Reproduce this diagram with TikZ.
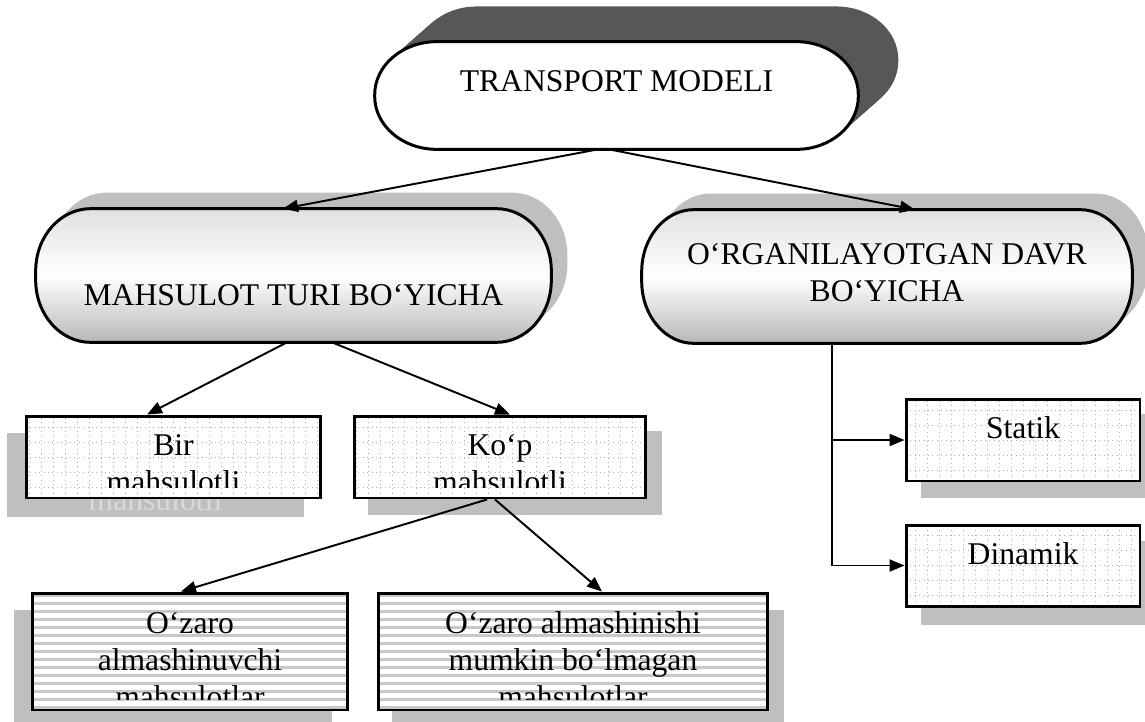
\documentclass[tikz,border=0pt]{standalone}
\usepackage{fontspec}
\setmainfont{Liberation Serif}
\usetikzlibrary{arrows.meta}
\usetikzlibrary{backgrounds}

\definecolor{shadowdark}{HTML}{575757}
\definecolor{shadowlight}{HTML}{BFBFBF}
\definecolor{ghostgray}{HTML}{D9D9D9}
\definecolor{stripegray}{HTML}{C8C8C8}
\definecolor{dotgray}{HTML}{B0B0B0}

\newcommand{\boxfont}{\fontsize{18}{21}\selectfont}

% capsule with elliptic ends round a node (radii in px)
\newcommand{\capsule}[4][]{%
	\path[#1] ([shift={(#3,0)}]#2.north west) -- ([shift={(-#3,0)}]#2.north east)
		arc[start angle=90, end angle=0, x radius=#3, y radius=#4]
		-- ([shift={(0,#4)}]#2.south east)
		arc[start angle=0, end angle=-90, x radius=#3, y radius=#4]
		-- ([shift={(#3,0)}]#2.south west)
		arc[start angle=-90, end angle=-180, x radius=#3, y radius=#4]
		-- ([shift={(0,-#4)}]#2.north west)
		arc[start angle=180, end angle=90, x radius=#3, y radius=#4]
		-- cycle;}

% shadow of a box
\newcommand{\boxshadow}[3]{%
	\begin{scope}[on background layer]
		\fill[shadowlight] ([shift={(#2,#3)}]#1.south west) rectangle ([shift={(#2,#3)}]#1.north east);
	\end{scope}}

% text of a box, clipped, and its copy in the shadow
\newcommand{\boxlabel}[5]{%
	\begin{scope}
		\clip (#1.north west) rectangle ([yshift=0.24cm]#1.south east);
		\node[boxtext] (#1-text) at ([shift={(0,-#2)}]#1.north) {\strut #5};
	\end{scope}
	\begin{scope}[on background layer]
		\clip ([shift={(#3,#4)}]#1.north west) rectangle ([shift={(#3,#4)}]#1.south east);
		\node[boxtext, text=ghostgray] (#1-ghost) at ([shift={({#3},{#4-#2})}]#1.north) {\strut #5};
	\end{scope}}

\begin{document}
\begin{tikzpicture}[x=0.02cm, y=0.02cm,
	frame/.style={draw, line width=1.7pt, inner sep=0pt},
	hub/.style={inner sep=0pt, minimum height=2.66cm},
	gridbox/.style={frame, fill=white, minimum height=1.64cm,
		path picture={\draw[dotted, dotgray, line width=0.5pt] (path picture bounding box.south west) grid[xstep=0.24cm, ystep=0.3cm] (path picture bounding box.north east);}},
	stripebox/.style={frame, fill=white, minimum height=2.34cm,
		path picture={\foreach \i in {-8,...,8}
			\draw[stripegray, line width=1.4pt] ([yshift=\i*0.16cm]path picture bounding box.west) -- ++(500,0);}},
	boxtext/.style={anchor=north, align=center, inner sep=0pt, font=\boxfont},
	arr/.style={-{Triangle[length=0.3cm, width=0.24cm]}, line width=1.1pt}]

	\useasboundingbox (0,0) rectangle (1145,-721);
	\begin{scope}[on background layer]
		\fill[white] (0,0) rectangle (1145,-721);
	\end{scope}

	%capsules
	\node[hub, minimum width=9.66cm, minimum height=2.14cm] (tm) at (616.5,-95.5) {};
	\node[hub, minimum width=10.3cm] (mt) at (293.5,-275.5) {};
	\node[hub, minimum width=9.8cm] (od) at (887,-276.5) {};

	\begin{scope}[on background layer]
		\foreach \k in {1,...,16}
			\capsule[fill=shadowdark, transform canvas={shift={({\k*2.5},{\k*2.2})}}]{tm}{62}{53};
		\foreach \k in {1,...,8} {
			\capsule[fill=shadowlight, transform canvas={shift={({\k*2},{\k*2})}}]{mt}{55}{62};
			\capsule[fill=shadowlight, transform canvas={shift={({\k*2},{\k*2})}}]{od}{52}{62};
		}
	\end{scope}

	\capsule[draw, line width=1.7pt, fill=white]{tm}{62}{53};
	\capsule[draw, line width=1.7pt, top color=black!12, bottom color=black!28, middle color=white]{mt}{55}{62};
	\capsule[draw, line width=1.7pt, top color=black!12, bottom color=black!28, middle color=white]{od}{52}{62};

	\node[boxtext] (tm-text) at ([yshift=-0.48cm]tm.north) {\strut TRANSPORT MODELI};
	\node[boxtext] (mt-text) at ([yshift=-1.42cm]mt.north) {\strut MAHSULOT TURI BO‘YICHA};
	\node[boxtext] (od-text) at ([yshift=-0.58cm]od.north) {\strut O‘RGANILAYOTGAN DAVR\\BO‘YICHA};

	%boxes
	\node[gridbox, minimum width=5.9cm] (bir) at (173.5,-457) {};
	\node[gridbox, minimum width=5.84cm] (kop) at (500,-457) {};
	\node[gridbox, minimum width=4.68cm] (statik) at (1023,-440) {};
	\node[gridbox, minimum width=4.68cm, minimum height=1.62cm] (dinamik) at (1023,-565.5) {};
	\node[stripebox, minimum width=6.32cm] (oz1) at (190,-651.5) {};
	\node[stripebox, minimum width=7.8cm] (oz2) at (573,-651.5) {};

	\boxshadow{bir}{-18}{-18}
	\boxshadow{kop}{15}{-16}
	\boxshadow{statik}{16}{-16}
	\boxshadow{dinamik}{16}{-17}
	\boxshadow{oz1}{-17}{-18}
	\boxshadow{oz2}{15}{-18}

	\boxlabel{bir}{15}{-18}{-18}{Bir\\mahsulotli}
	\boxlabel{kop}{15}{15}{-16}{Ko‘p\\mahsulotli}
	\boxlabel{statik}{15}{16}{-16}{Statik}
	\boxlabel{dinamik}{15}{16}{-17}{Dinamik}
	\boxlabel{oz1}{16}{-17}{-18}{O‘zaro\\almashinuvchi\\mahsulotlar}
	\boxlabel{oz2}{16}{15}{-18}{O‘zaro almashinishi\\mumkin bo‘lmagan\\mahsulotlar}

	%arrows
	\draw[arr] ([xshift=-0.37cm]tm.south) -- ([xshift=-0.21cm]mt.north);
	\draw[arr] ([xshift=-0.15cm]tm.south) -- ([xshift=0.56cm]od.north);
	\draw[arr] ([xshift=-0.13cm]mt.south) -- ([xshift=-0.53cm]bir.north);
	\draw[arr] ([xshift=0.77cm]mt.south) -- ([xshift=0.2cm]kop.north);
	\draw[arr] ([xshift=-0.26cm]kop.south) -- ([xshift=-0.18cm]oz1.north);
	\draw[arr] ([xshift=-0.1cm]kop.south) -- ([xshift=0.58cm]oz2.north);

	\coordinate (trunk) at (832,0);
	\draw[arr] (od.south -| trunk) |- (statik.west);
	\draw[arr] (od.south -| trunk) |- (dinamik.west);

\end{tikzpicture}
\end{document}
